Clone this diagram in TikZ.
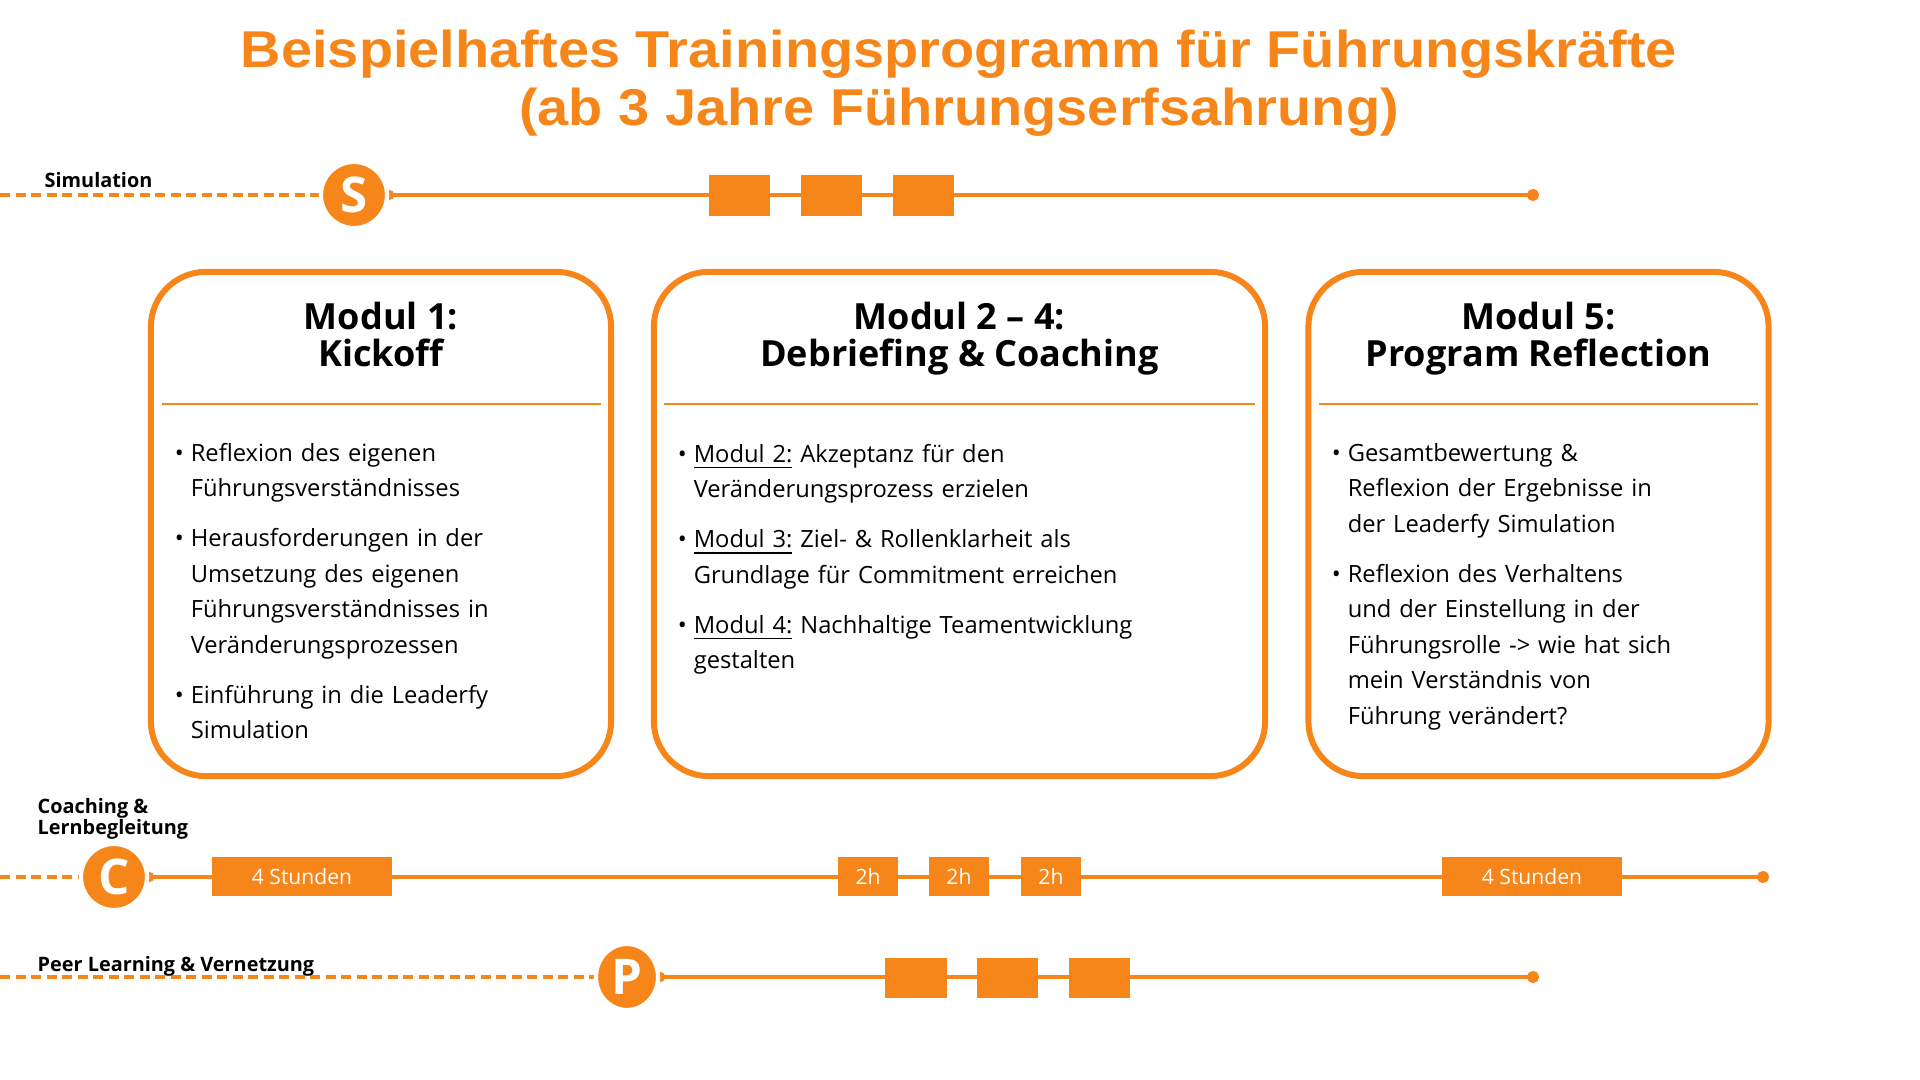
\documentclass[tikz,border=0pt]{standalone}
\usepackage{fontspec}
\setmainfont{Open Sans}
\newfontfamily\titlefont[FakeStretch=1.08]{Liberation Sans}
\usetikzlibrary{arrows.meta,backgrounds,shapes.geometric}

\definecolor{lforange}{HTML}{F7861A}

% Liste mit Punkten
\newenvironment{punkte}{%
  \begin{list}{\llap{\textbullet}}{%
    \setlength{\leftmargin}{4pt}\setlength{\labelsep}{2pt}%
    \setlength{\labelwidth}{0pt}\setlength{\itemindent}{0pt}%
    \setlength{\itemsep}{4.1pt}\setlength{\parsep}{0pt}%
    \setlength{\topsep}{0pt}\setlength{\partopsep}{0pt}}}%
  {\end{list}}

\tikzset{
  modbox/.style={draw=lforange, line width=1.7pt, rounded corners=0.55cm,
    minimum width=4.6cm, minimum height=5.04cm, fill=white},
  modtitle/.style={anchor=north, font=\bfseries\fontsize{10.25}{10.5}\selectfont, align=center},
  modtext/.style={anchor=north west, inner sep=0pt, text width=4.3cm,
    align=left, font=\fontsize{6.75}{10.1}\selectfont},
  trenner/.style={draw=lforange, line width=0.5pt},
  lanelabel/.style={anchor=west, inner sep=0pt, align=left,
    font=\bfseries\fontsize{5.65}{5.9}\selectfont},
  lanecircle/.style={circle, fill=lforange, draw=white, line width=1.2pt,
    minimum size=0.66cm, inner sep=0pt, text=white,
    font=\bfseries\fontsize{14}{14}\selectfont},
  slot/.style={fill=lforange, draw=none, minimum width=0.61cm,
    minimum height=0.41cm, inner sep=0pt, text=white,
    font=\fontsize{6}{6}\selectfont},
  laneline/.style={draw=lforange, line width=1.2pt,
    {Circle[length=0.1cm]}-{Circle[length=0.12cm]}},
  lanedash/.style={draw=lforange, line width=1.2pt, dash pattern=on 0.1cm off 0.055cm}
}

\begin{document}
\begin{tikzpicture}[x=0.01cm, y=-0.01cm]
    \useasboundingbox (0,0) rectangle (1920,1080);

    % Titel
    \node[text=lforange, align=center, font=\titlefont\bfseries\fontsize{14.73}{16.5}\selectfont]
      (titel) at (959,83) {Beispielhaftes Trainingsprogramm für Führungskräfte\\(ab 3 Jahre Führungserfsahrung)};

    % Simulation
    \node[lanelabel] (labSim) at (44,180) {Simulation};
    \coordinate (simStart) at (0,195);
    \coordinate (simEnd) at (1539,195);
    \node[lanecircle] (simS) at (354,195) {S};
    \node[slot] (sim1) at (739.5,195.5) {};
    \node[slot] (sim2) at (831.5,195.5) {};
    \node[slot] (sim3) at (923.5,195.5) {};

    % Module
    \node[modbox] (m1) at (381,524) {};
    \node[modbox, minimum width=6.11cm] (m2) at (959.5,524) {};
    \node[modbox] (m3) at (1538.5,524) {};

    \node[modtitle] (m1t) at (381,290) {Modul 1:\\Kickoff};
    \node[modtitle] (m2t) at (959.5,290) {Modul 2 -- 4:\\Debriefing \& Coaching};
    \node[modtitle] (m3t) at (1538.5,290) {Modul 5:\\Program Reflection};

    \draw[trenner] (162,404) -- (601,404);
    \draw[trenner] (664,404) -- (1255,404);
    \draw[trenner] (1319,404) -- (1758,404);

    \node[modtext] (m1x) at (176,425) {\begin{punkte}
      \item Reflexion des eigenen\\Führungsverständnisses
      \item Herausforderungen in der\\Umsetzung des eigenen\\Führungsverständnisses in\\Veränderungsprozessen
      \item Einführung in die Leaderfy\\Simulation
    \end{punkte}};
    \node[modtext, text width=5.4cm] (m2x) at (679,426) {\begin{punkte}
      \item \underline{Modul 2:} Akzeptanz für den\\Veränderungsprozess erzielen
      \item \underline{Modul 3:} Ziel- \& Rollenklarheit als\\Grundlage für Commitment erreichen
      \item \underline{Modul 4:} Nachhaltige Teamentwicklung\\gestalten
    \end{punkte}};
    \node[modtext] (m3x) at (1333,425) {\begin{punkte}
      \item Gesamtbewertung \&\\Reflexion der Ergebnisse in\\der Leaderfy Simulation
      \item Reflexion des Verhaltens\\und der Einstellung in der\\Führungsrolle -> wie hat sich\\mein Verständnis von\\Führung verändert?
    \end{punkte}};

    % Coaching
    \node[lanelabel] (labCoa) at (37,819) {Coaching \&\\Lernbegleitung};
    \coordinate (coaStart) at (0,877);
    \coordinate (coaEnd) at (1769,877);
    \node[lanecircle] (coaC) at (114,877) {C};
    \node[slot, minimum width=1.8cm, minimum height=0.39cm] (coa1) at (302,876.5) {4 Stunden};
    \node[slot, minimum width=0.6cm, minimum height=0.39cm] (coa2) at (868,876.5) {2h};
    \node[slot, minimum width=0.6cm, minimum height=0.39cm] (coa3) at (959,876.5) {2h};
    \node[slot, minimum width=0.6cm, minimum height=0.39cm] (coa4) at (1051,876.5) {2h};
    \node[slot, minimum width=1.8cm, minimum height=0.39cm] (coa5) at (1532,876.5) {4 Stunden};

    % Peer Learning
    \node[lanelabel] (labPeer) at (37,966) {Peer Learning \& Vernetzung};
    \coordinate (peerStart) at (0,977);
    \coordinate (peerEnd) at (1539,977);
    \node[lanecircle, ellipse, minimum width=0.62cm, minimum height=0.66cm] (peerP) at (627,977) {P};
    \node[slot, minimum height=0.40cm] (peer1) at (916,978) {};
    \node[slot, minimum height=0.40cm] (peer2) at (1007.5,978) {};
    \node[slot, minimum height=0.40cm] (peer3) at (1099.5,978) {};

    % Linien
    \begin{scope}[on background layer]
      \draw[lanedash] (simStart) -- (simS.west);
      \draw[laneline] ([xshift=-0.05cm]simS.east) -- (simEnd);
      \draw[lanedash] (coaStart) -- (coaC.west);
      \draw[laneline] ([xshift=-0.05cm]coaC.east) -- (coaEnd);
      \draw[lanedash] (peerStart) -- (peerP.west);
      \draw[laneline] ([xshift=-0.05cm]peerP.east) -- (peerEnd);
    \end{scope}
\end{tikzpicture}
\end{document}
